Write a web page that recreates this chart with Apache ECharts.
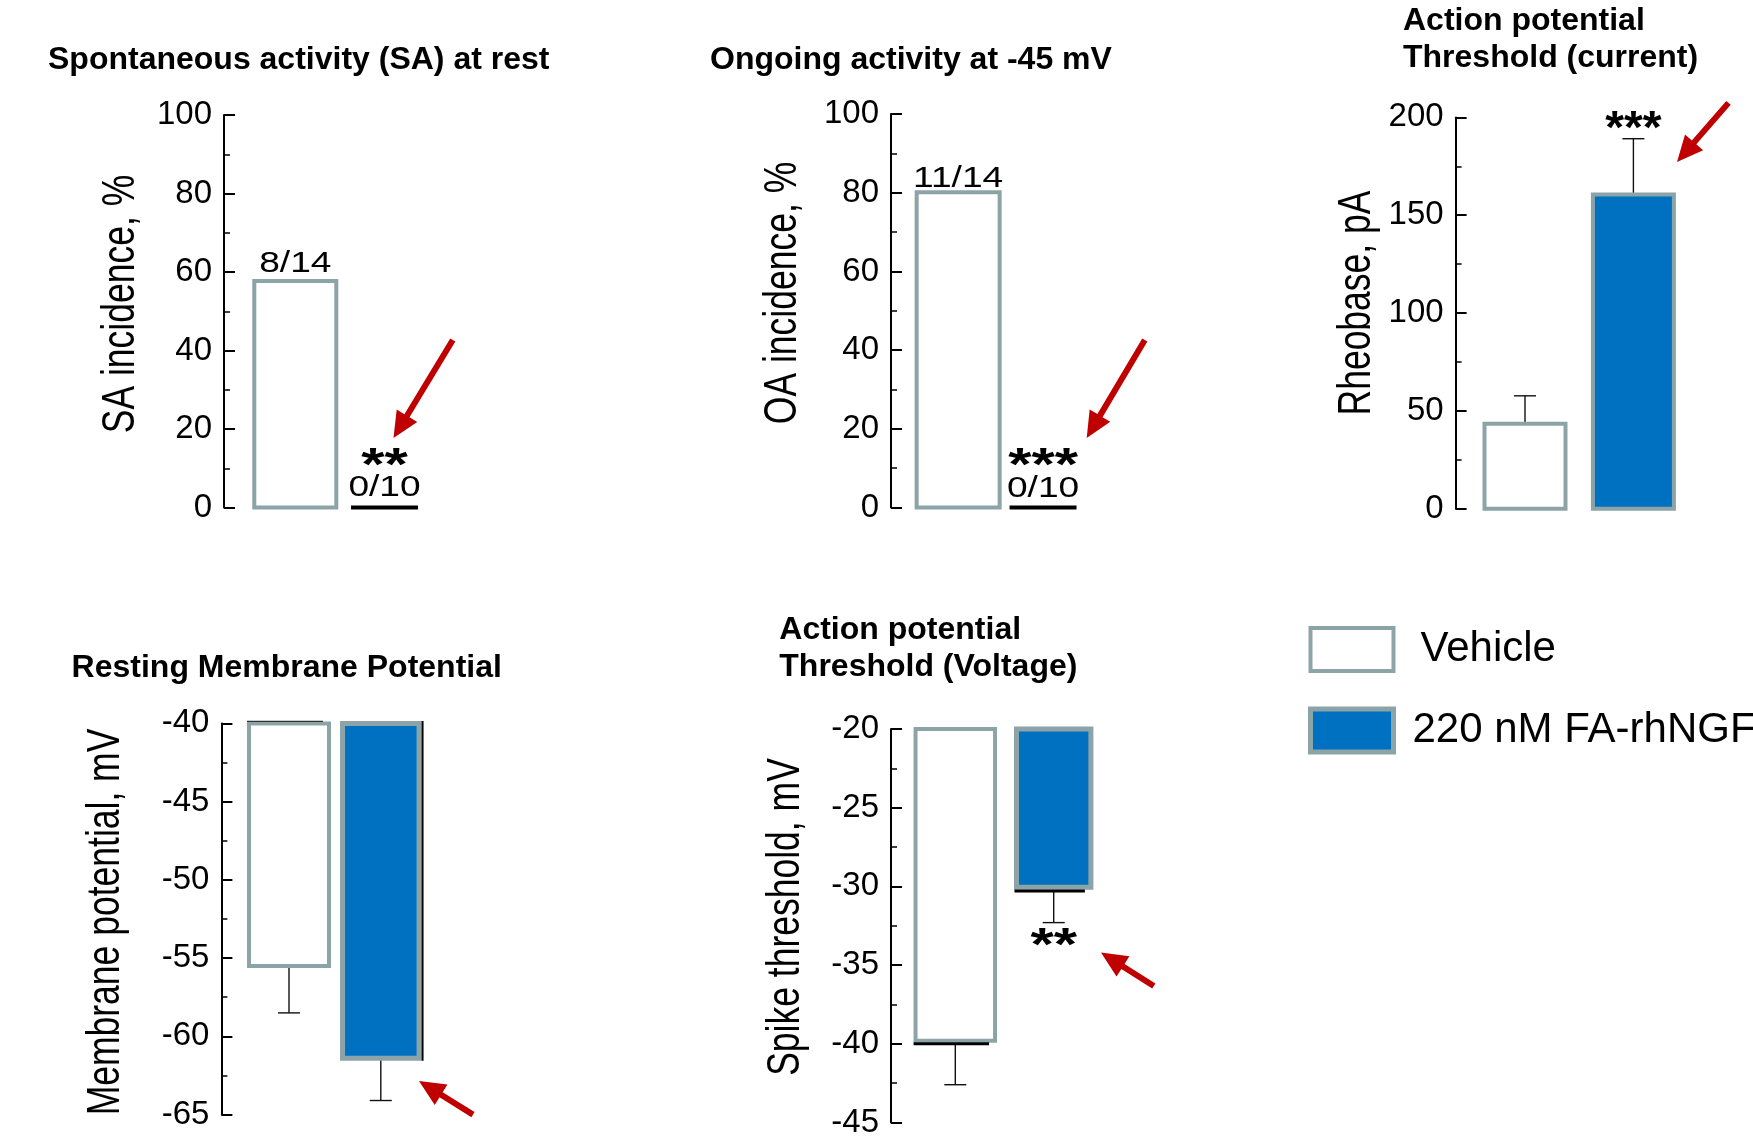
<!DOCTYPE html>
<html>
<head>
<meta charset="utf-8">
<script src="https://cdn.jsdelivr.net/npm/echarts@6/dist/echarts.min.js"></script>
<style>html,body{margin:0;padding:0;background:#fff}#c{width:1753px;height:1139px}</style>
</head>
<body>
<div id="c"></div>
<script>
// ---------------- DATA ----------------
const groups = ['Vehicle', '220 nM FA-rhNGF'];
// Spontaneous activity (SA) at rest, incidence %
const saIncidence = [57.7, 0];
const saCounts = ['8/14', '0/10'];
const saSig = '**';
// Ongoing activity at -45 mV, incidence %
const oaIncidence = [80.1, 0];
const oaCounts = ['11/14', '0/10'];
const oaSig = '***';
// Rheobase, pA (mean and top of SEM bar)
const rheobaseMean = [43.4, 160.6];
const rheobaseErrTop = [57.7, 189.1];
const rheobaseSig = '***';
// Resting membrane potential, mV
const rmpMean = [-55.5, -61.4];
const rmpErrLow = [-58.5, -64.1];
// Spike threshold, mV
const thrBar = [-39.8, -30.05];
const thrMean = [-40.0, -30.3];
const thrErrLow = [-42.6, -32.3];
const thrSig = '**';

const titles = ['Spontaneous activity (SA) at rest', 'Ongoing activity at -45 mV',
  'Action potential\nThreshold (current)', 'Resting Membrane Potential', 'Action potential\nThreshold (Voltage)'];
const yNames = ['SA incidence, %', 'OA incidence, %', 'Rheobase, pA', 'Membrane potential, mV', 'Spike threshold, mV'];
const yMin = [0, 0, 0, -65, -45];
const yMax = [100, 100, 200, -40, -20];
const yInterval = [20, 20, 50, 5, 5];
const barBase = [0, 0, 0, -40, -20];

// ---------------- STYLE / LAYOUT ----------------
const BORDER = '#8ca4a7';
const BLUE = '#0070c0';
const RED = '#c00000';
const FONT = '"Liberation Sans", Arial, sans-serif';
const layout = [
  {axisX: 224,    left: 250.7,  top: 115,   width: 178.4, height: 392.6, nx: 121,   ny: 304,   tl: 48,    tt: 42},
  {axisX: 891,    left: 915.7,  top: 114,   width: 169.8, height: 393.6, nx: 782.6, ny: 293,   tl: 710,   tt: 42},
  {axisX: 1455.6, left: 1470.8, top: 117.4, width: 216.8, height: 391.3, nx: 1357,  ny: 303,   tl: 1403,  tt: 3},
  {axisX: 221.4,  left: 243.1,  top: 723.4, width: 183.6, height: 391.2, nx: 106,   ny: 922,   tl: 71.6,  tt: 650},
  {axisX: 891,    left: 906.1,  top: 729,   width: 196.8, height: 393.5, nx: 786,   ny: 917,   tl: 779.3, tt: 611.5}
];

function makeBarRender(c) {
  return function (params, api) {
    const cat = api.value(0), v = api.value(1);
    const pb = api.coord([cat, c.base]);
    const pv = api.coord([cat, v]);
    const cx = pb[0];
    const children = [];
    if (Math.abs(pv[1] - pb[1]) < 0.5) {
      children.push({type: 'line', shape: {x1: cx - c.zeroLen / 2, y1: pv[1], x2: cx + c.zeroLen / 2, y2: pv[1]},
        style: {stroke: '#000', lineWidth: 4}});
    } else {
      const y1 = Math.min(pb[1], pv[1]), y2 = Math.max(pb[1], pv[1]);
      children.push({type: 'rect', shape: {x: cx - c.w / 2, y: y1, width: c.w, height: y2 - y1},
        style: {fill: c.fill, stroke: BORDER, lineWidth: c.bw}});
      if (c.rightEdge) {
        const xr = cx + c.w / 2 + c.bw / 2 + 1;
        children.push({type: 'line', shape: {x1: xr, y1: y1 - c.bw / 2, x2: xr, y2: y2 + c.bw / 2},
          style: {stroke: '#000', lineWidth: 2}});
      }
      if (c.topLine) {
        children.push({type: 'line', shape: {x1: cx - c.w / 2 - c.bw / 2, y1: y1 - c.bw / 2, x2: cx + c.w / 2 - 6, y2: y1 - c.bw / 2},
          style: {stroke: '#333', lineWidth: 1.3}});
      }
    }
    return {type: 'group', children: children};
  };
}

function makeErrRender(capW) {
  return function (params, api) {
    const cat = api.value(0);
    const p1 = api.coord([cat, api.value(1)]);
    const p2 = api.coord([cat, api.value(2)]);
    return {type: 'group', children: [
      {type: 'line', shape: {x1: p1[0], y1: p1[1], x2: p2[0], y2: p2[1]}, style: {stroke: '#111', lineWidth: 1.4}},
      {type: 'line', shape: {x1: p2[0] - capW / 2, y1: p2[1], x2: p2[0] + capW / 2, y2: p2[1]}, style: {stroke: '#111', lineWidth: 1.4}}
    ]};
  };
}

function makeMeanLineRender(widths) {
  return function (params, api) {
    const cat = api.value(0);
    const p = api.coord([cat, api.value(1)]);
    const w = widths[params.dataIndex];
    return {type: 'line', shape: {x1: p[0] - w / 2 - 2, y1: p[1], x2: p[0] + w / 2 - 6, y2: p[1]},
      style: {stroke: '#000', lineWidth: 3}};
  };
}

function makeTextRender(items) {
  return function (params, api) {
    const it = items[params.dataIndex];
    const p = api.coord([api.value(0), api.value(1)]);
    return {type: 'text', x: p[0], y: p[1] + it.dy, scaleX: it.sx || 1,
      style: {text: it.text, fill: '#000', fontSize: it.size, fontFamily: FONT,
        fontWeight: it.bold ? 'bold' : 'normal', align: 'center', verticalAlign: 'middle'}};
  };
}

function barSeries(panel, gi, value, cfg) {
  return {
    type: 'custom', name: groups[gi], xAxisIndex: panel, yAxisIndex: panel, clip: false, z: 3,
    itemStyle: {color: gi === 0 ? '#fff' : BLUE, borderColor: BORDER, borderWidth: 4},
    data: [[gi, value]],
    renderItem: makeBarRender(Object.assign({base: barBase[panel], fill: gi === 0 ? '#fff' : BLUE}, cfg))
  };
}
function errSeries(panel, from, to, capW) {
  return {type: 'custom', name: 'SEM', xAxisIndex: panel, yAxisIndex: panel, clip: false, z: 2,
    data: [[0, from[0], to[0]], [1, from[1], to[1]]], renderItem: makeErrRender(capW)};
}
function textSeries(panel, data, items) {
  return {type: 'custom', name: 'labels', xAxisIndex: panel, yAxisIndex: panel, clip: false, z: 5,
    data: data, renderItem: makeTextRender(items)};
}

const series = [
  // Panel 1
  barSeries(0, 0, saIncidence[0], {w: 82, bw: 4, zeroLen: 67}),
  barSeries(0, 1, saIncidence[1], {w: 82, bw: 4, zeroLen: 67}),
  textSeries(0, [[0, saIncidence[0]], [1, saIncidence[1]], [1, saIncidence[1]]], [
    {text: saCounts[0], dy: -16.6, size: 29, sx: 1.28},
    {text: saCounts[1], dy: -20, size: 29, sx: 1.28},
    {text: saSig, dy: -40, size: 46, bold: true, sx: 1.3}]),
  // Panel 2
  barSeries(1, 0, oaIncidence[0], {w: 83, bw: 4, zeroLen: 67}),
  barSeries(1, 1, oaIncidence[1], {w: 83, bw: 4, zeroLen: 67}),
  textSeries(1, [[0, oaIncidence[0]], [1, oaIncidence[1]], [1, oaIncidence[1]]], [
    {text: oaCounts[0], dy: -13.3, size: 29, sx: 1.28},
    {text: oaCounts[1], dy: -19, size: 29, sx: 1.28},
    {text: oaSig, dy: -40, size: 46, bold: true, sx: 1.3}]),
  // Panel 3
  errSeries(2, rheobaseMean, rheobaseErrTop, 22),
  barSeries(2, 0, rheobaseMean[0], {w: 81, bw: 4}),
  barSeries(2, 1, rheobaseMean[1], {w: 81, bw: 4}),
  textSeries(2, [[1, rheobaseErrTop[1]]], [{text: rheobaseSig, dy: -8, size: 46, bold: true, sx: 1.05}]),
  // Panel 4
  errSeries(3, rmpMean, rmpErrLow, 22),
  barSeries(3, 0, rmpMean[0], {w: 80, bw: 4, topLine: true}),
  barSeries(3, 1, rmpMean[1], {w: 76.5, bw: 5, rightEdge: true}),
  // Panel 5
  errSeries(4, thrMean, thrErrLow, 22),
  barSeries(4, 0, thrBar[0], {w: 79.5, bw: 4}),
  barSeries(4, 1, thrBar[1], {w: 74.4, bw: 5}),
  {type: 'custom', name: 'mean', xAxisIndex: 4, yAxisIndex: 4, clip: false, z: 4,
    data: [[0, thrMean[0]], [1, thrMean[1]]], renderItem: makeMeanLineRender([79.5, 74.4])},
  textSeries(4, [[1, thrErrLow[1]]], [{text: thrSig, dy: 24.5, size: 46, bold: true, sx: 1.3}])
];

// red annotation arrows (tail x, tail y, tip x, tip y)
const arrows = [[452.8, 340, 393.5, 438], [1144.8, 340, 1086.7, 438], [1728.5, 102.9, 1677, 162],
  [473, 1114.6, 419, 1081], [1153.8, 986, 1101, 952.5]];
function arrowPoints(a) {
  const tx = a[0], ty = a[1], hx = a[2], hy = a[3];
  const L = Math.hypot(hx - tx, hy - ty), ux = (hx - tx) / L, uy = (hy - ty) / L, nx = -uy, ny = ux;
  const s = 3, h = 12, hl = 26;
  const bx = hx - ux * hl, by = hy - uy * hl;
  return [[tx + nx * s, ty + ny * s], [bx + nx * s, by + ny * s], [bx + nx * h, by + ny * h], [hx, hy],
    [bx - nx * h, by - ny * h], [bx - nx * s, by - ny * s], [tx - nx * s, ty - ny * s]];
}

// axis titles: rotated text, glyphs stretched across like the reference
const nameGraphics = layout.map((l, i) => ({
  type: 'text', x: l.nx, y: l.ny, rotation: Math.PI / 2, scaleY: 1.32, z: 50,
  style: {text: yNames[i], fontSize: 35.5, fontFamily: FONT, fill: '#000', align: 'center', verticalAlign: 'middle'}
}));

const option = {
  animation: false,
  backgroundColor: '#fff',
  textStyle: {fontFamily: FONT},
  title: layout.map((l, i) => ({
    text: titles[i], left: l.tl, top: l.tt, padding: 0,
    textStyle: {fontSize: 32, fontWeight: 'bold', fontFamily: FONT, color: '#000', lineHeight: 37}
  })),
  grid: layout.map(l => ({left: l.left, top: l.top, width: l.width, height: l.height, containLabel: false, outerBoundsMode: 'none'})),
  xAxis: layout.map((l, i) => ({type: 'category', gridIndex: i, data: groups, show: false, boundaryGap: true})),
  yAxis: layout.map((l, i) => ({
    type: 'value', gridIndex: i, min: yMin[i], max: yMax[i], interval: yInterval[i],
    position: 'left', offset: l.left - l.axisX,
    axisLine: {show: true, onZero: false, lineStyle: {color: '#000', width: 2}},
    axisTick: {show: true, inside: true, length: 11, lineStyle: {color: '#000', width: 2}},
    minorTick: {show: true, splitNumber: 2, length: 6, lineStyle: {color: '#000', width: 1.5}},
    splitLine: {show: false},
    axisLabel: {fontSize: 33, color: '#000', margin: 12, fontFamily: FONT}
  })),
  legend: {
    orient: 'vertical', left: 1308, top: 626, padding: 0, itemWidth: 83, itemHeight: 43, itemGap: 33.5,
    selectedMode: false, icon: 'rect',
    textStyle: {fontSize: 42, color: '#000', fontFamily: FONT},
    data: [
      {name: groups[0], itemStyle: {color: '#fff', borderColor: BORDER, borderWidth: 4}, textStyle: {padding: [0, 0, 0, 22]}},
      {name: groups[1], itemStyle: {color: BLUE, borderColor: BORDER, borderWidth: 5}, textStyle: {padding: [0, 0, 0, 14]}}
    ]
  },
  graphic: arrows.map(a => ({type: 'polygon', shape: {points: arrowPoints(a)}, style: {fill: RED}, z: 100}))
    .concat(nameGraphics),
  series: series
};

const chart = echarts.init(document.getElementById('c'), null, {renderer: 'canvas'});
chart.setOption(option);
</script>
</body>
</html>
